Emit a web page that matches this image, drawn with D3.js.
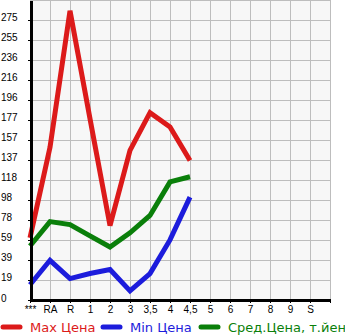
<!DOCTYPE html>
<html>
<head>
<meta charset="utf-8">
<script src="https://cdn.jsdelivr.net/npm/d3@7"></script>
<style>
  body { margin: 0; background: #fff; }
  svg { display: block; font-family: "DejaVu Sans", sans-serif; }
  .grid line { stroke: #bdbdbd; stroke-width: 1; shape-rendering: crispEdges; }
  .axis path, .axis line { stroke: #000; shape-rendering: crispEdges; }
  .axis text { font-size: 10px; fill: #000; }
</style>
</head>
<body>
<svg id="chart" width="345" height="335"></svg>
<script>
// categories on the x axis (last slot is empty)
const categories = ['***', 'RA', 'R', '1', '2', '3', '3,5', '4', '4,5', '5', '6', '7', '8', '9', 'S'];
const yTickLabels = ['0', '19', '39', '59', '78', '98', '118', '137', '157', '177', '196', '216', '236', '255', '275'];
const yStep = 275 / 14;
const yMax = 294.6;

// series values, one per category (null = no data)
const maxPrice = [61, 150, 284, 178, 73, 147, 184, 170, 137];
const minPrice = [15, 39, 21, 26, 30, 9, 26, 59, 101];
const avgPrice = [53, 77, 74, 63, 52, 66, 83, 116, 121];

const series = [
  { name: 'Max Цена', values: maxPrice, color: '#dc1a1a' },
  { name: 'Min Цена', values: minPrice, color: '#1c1cdc' },
  { name: 'Сред.Цена, т.йен', values: avgPrice, color: '#0a7f0a' }
];

const svg = d3.select('#chart');
const plotL = 30, plotR = 330, plotT = 0, plotB = 300;

const x = d3.scaleLinear().domain([0, categories.length]).range([plotL, plotR]);
const y = d3.scaleLinear().domain([0, yMax]).range([plotB, plotT]);

// background
svg.append('rect')
  .attr('x', plotL).attr('y', plotT)
  .attr('width', plotR - plotL).attr('height', plotB - plotT)
  .attr('fill', '#f7f7f7');

// grid
const grid = svg.append('g').attr('class', 'grid');
grid.selectAll('.v')
  .data(d3.range(categories.length + 1))
  .enter().append('line')
  .attr('x1', d => x(d) + 0.5).attr('x2', d => x(d) + 0.5)
  .attr('y1', plotT).attr('y2', plotB);
grid.selectAll('.h')
  .data(yTickLabels.map((d, i) => i * yStep).concat([yMax]))
  .enter().append('line')
  .attr('x1', plotL).attr('x2', plotR)
  .attr('y1', d => Math.round(y(d)) + 0.5).attr('y2', d => Math.round(y(d)) + 0.5);

// lines
const line = d3.line()
  .defined(d => d != null)
  .x((d, i) => x(i))
  .y(d => y(d));

series.forEach(s => {
  svg.append('path')
    .datum(s.values)
    .attr('fill', 'none')
    .attr('stroke', s.color)
    .attr('stroke-width', 5)
    .attr('stroke-linejoin', 'miter')
    .attr('d', line);
});

// axes
const xAxis = d3.axisBottom(x)
  .tickValues(d3.range(categories.length + 1))
  .tickFormat(i => categories[i] || '')
  .tickSize(3)
  .tickSizeOuter(0);
const gx = svg.append('g').attr('class', 'axis')
  .attr('transform', `translate(0,${plotB})`)
  .call(xAxis);
gx.select('.domain').attr('stroke-width', 2.5);
gx.selectAll('text').attr('dy', '0.95em').attr('y', 3);

const yAxis = d3.axisLeft(y)
  .tickValues(yTickLabels.map((d, i) => i * yStep))
  .tickFormat((d, i) => yTickLabels[i])
  .tickSize(3)
  .tickSizeOuter(0);
const gy = svg.append('g').attr('class', 'axis')
  .attr('transform', `translate(${plotL + 1},0)`)
  .call(yAxis);
gy.select('.domain').attr('stroke-width', 2.5);
gy.selectAll('text')
  .attr('text-anchor', 'start')
  .attr('x', -plotL)
  .attr('dy', '0.1em');

// legend
const legend = svg.append('g').attr('transform', 'translate(0,327)');
const legendX = [0, 100, 198];
series.forEach((s, i) => {
  const g = legend.append('g').attr('transform', `translate(${legendX[i]},0)`);
  g.append('line')
    .attr('x1', 3).attr('x2', 20)
    .attr('y1', 0).attr('y2', 0)
    .attr('stroke', s.color)
    .attr('stroke-width', 5)
    .attr('stroke-linecap', 'round');
  g.append('text')
    .attr('x', 30).attr('y', 0)
    .attr('dy', '0.35em')
    .attr('font-size', 13)
    .attr('fill', s.color)
    .text(s.name);
});
</script>
</body>
</html>
